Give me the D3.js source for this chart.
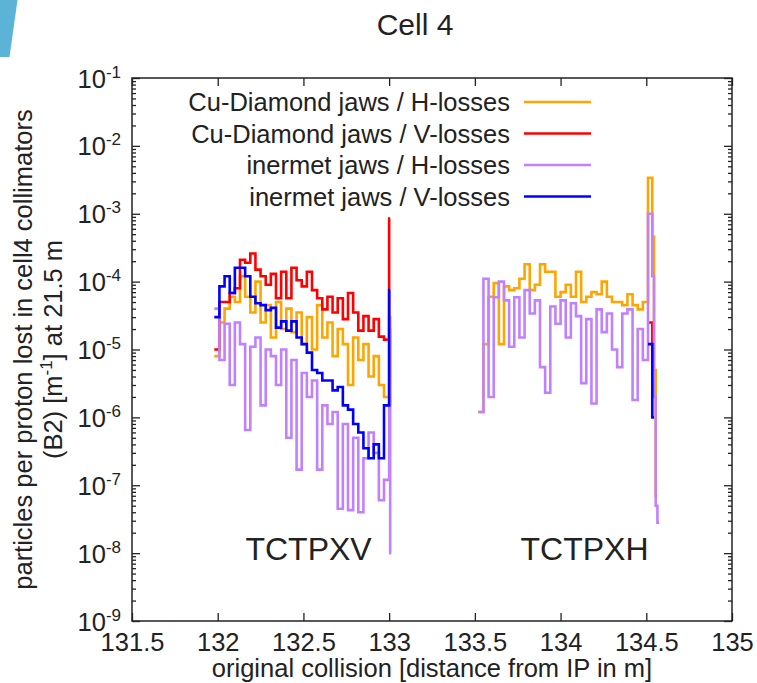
<!DOCTYPE html>
<html>
<head>
<meta charset="utf-8">
<script src="https://cdn.jsdelivr.net/npm/d3@7"></script>
<style>
  body { margin: 0; background: #fff; }
  svg text { font-family: "Liberation Sans", Arial, sans-serif; fill: #222; }
</style>
</head>
<body>
<script>
// bin edges (m) for the two collimators
const edgesV = [131.98, 132.01, 132.04, 132.07, 132.10, 132.13, 132.16, 132.19, 132.22, 132.25,
  132.28, 132.31, 132.34, 132.37, 132.40, 132.43, 132.46, 132.49, 132.52, 132.55, 132.58, 132.61,
  132.64, 132.67, 132.70, 132.73, 132.76, 132.79, 132.82, 132.85, 132.88, 132.91, 132.94, 132.97,
  133.00, 133.006, 133.012];
const edgesH = [133.52, 133.55, 133.58, 133.61, 133.64, 133.67, 133.70, 133.73, 133.76, 133.79,
  133.82, 133.85, 133.88, 133.91, 133.94, 133.97, 134.00, 134.03, 134.06, 134.09, 134.12, 134.15,
  134.18, 134.21, 134.24, 134.27, 134.30, 134.33, 134.36, 134.39, 134.42, 134.45, 134.48,
  134.51, 134.535, 134.545, 134.555, 134.565, 134.575];

// Cu-Diamond jaws / H-losses
const cuHV = [8e-6, 2.5e-5, 4e-5, 6e-5, 5e-5, 1.2e-4, 6e-5, 3.5e-5, 1e-4, 2.5e-5, 4.5e-5, 1.5e-5,
  5e-5, 2e-5, 4e-5, 1.8e-5, 3.5e-5, 1.2e-5, 3e-5, 1e-5, 4.5e-5, 1.5e-5, 2.5e-5, 8e-6, 2e-5, 1.2e-5,
  3e-6, 1.5e-5, 7e-6, 1.2e-5, 4e-6, 8e-6, 3e-6, 2e-6, 2e-5, 1.5e-6];
const cuHH = [1.2e-6, 1.2e-5, 6e-5, 9.5e-5, 1.2e-5, 8.5e-5, 7.5e-5, 8e-5, 1.1e-4, 1.8e-4, 7.5e-5,
  9e-5, 1.8e-4, 1.4e-4, 1.4e-4, 6e-5, 7e-5, 9e-5, 6e-5, 1.4e-4, 5e-5, 6e-5, 7e-5, 6.5e-5, 1e-4,
  6e-5, 5e-5, 5e-5, 4.5e-5, 6.5e-5, 4.5e-5, 3.9e-5, 5e-5, 3.4e-3, 4.6e-4, 5e-6, 7e-8, null];

// Cu-Diamond jaws / V-losses
const cuVV = [1e-5, 5e-5, 5e-5, 6.8e-5, 8e-5, 2.1e-4, 1.9e-4, 2.6e-4, 1.5e-4, 1.2e-4, 9e-5, 1.3e-4,
  5.7e-5, 1.4e-4, 5.7e-5, 1.6e-4, 1.05e-4, 8.5e-5, 1.4e-4, 7.5e-5, 5.7e-5, 3.9e-5, 6e-5, 3.5e-5,
  5.7e-5, 2.8e-5, 6.8e-5, 3.5e-5, 1.9e-5, 3.1e-5, 1.9e-5, 2.8e-5, 1.55e-5, 1.4e-5, 8.5e-4, null];
const cuVEdgesH = [134.51, 134.535, 134.545];
const cuVH = [2.5e-5, 3.6e-6];

// inermet jaws / H-losses
const inHV = [4e-5, 7e-6, 2.4e-5, 3e-6, 2.5e-5, 1.2e-5, 6.5e-7, 1.1e-5, 1.5e-5, 1.5e-6, 1e-5, 8e-6,
  3e-6, 1e-5, 5e-7, 7e-6, 1.7e-7, 4.5e-6, 2e-6, 3.5e-6, 1.7e-7, 1.5e-6, 8e-7, 1.2e-6, 4.5e-8, 8e-7,
  4.3e-8, 5e-7, 4e-8, 2.5e-7, 6e-7, 3e-7, 6e-8, 1.2e-7, 3e-5, 1e-8];
const inHH = [1.2e-6, 1.1e-4, 2e-6, 5.9e-5, 1e-4, 5.3e-5, 1.1e-5, 5.9e-5, 1.5e-5, 7.5e-5, 3.4e-5,
  5.3e-5, 5.5e-6, 2.3e-6, 4.3e-5, 2.4e-5, 5.3e-5, 1.5e-5, 4.8e-5, 3.1e-5, 3.2e-6, 2.8e-5, 1.6e-6,
  3.9e-5, 1.8e-5, 3.4e-5, 1e-5, 5.5e-6, 3.4e-5, 3.9e-5, 1.8e-6, 2e-5, 7e-6, 1e-3, 1.2e-4, 2e-6,
  5e-8, 2.8e-8];

// inermet jaws / V-losses
const inVV = [3e-5, 8.5e-5, 1.2e-4, 6.8e-5, 1.6e-4, 1.6e-4, 1.2e-4, 6e-5, 4.8e-5, 4.5e-5, 3.8e-5,
  4.1e-5, 2.1e-5, 2.6e-5, 1.9e-5, 2.6e-5, 1.5e-5, 1.2e-5, 9e-6, 5e-6, 4.5e-6, 3.5e-6, 3.5e-6,
  2.5e-6, 2.8e-6, 1.5e-6, 1.3e-6, 8e-7, 6e-7, 3.5e-7, 2.5e-7, 4e-7, 2.5e-7, 1.5e-6, 7.5e-5, null];
const inVEdgesH = [134.51, 134.535, 134.545];
const inVH = [1.2e-5, 1e-6];

const seriesNames = ["Cu-Diamond jaws / H-losses", "Cu-Diamond jaws / V-losses",
  "inermet jaws / H-losses", "inermet jaws / V-losses"];
const seriesColors = ["#ffa500", "#ff0000", "#c080ff", "#0000ff"];

const xTicks = [131.5, 132, 132.5, 133, 133.5, 134, 134.5, 135];
const yTicks = [1e-9, 1e-8, 1e-7, 1e-6, 1e-5, 1e-4, 1e-3, 1e-2, 1e-1];

const series = [
  { name: seriesNames[0], color: seriesColors[0], parts: [[edgesV, cuHV], [edgesH, cuHH]] },
  { name: seriesNames[1], color: seriesColors[1], parts: [[edgesV, cuVV], [cuVEdgesH, cuVH]] },
  { name: seriesNames[2], color: seriesColors[2], parts: [[edgesV, inHV], [edgesH, inHH]] },
  { name: seriesNames[3], color: seriesColors[3], parts: [[edgesV, inVV], [inVEdgesH, inVH]] }
];

const W = 757, H = 683;
const margin = { top: 78, right: 25, bottom: 62, left: 132 },
    width = W - margin.left - margin.right,
    height = H - margin.top - margin.bottom;

const svgRoot = d3.select("body").append("svg")
    .attr("width", W)
    .attr("height", H);

// slide decoration in the corner
svgRoot.append("polygon")
    .attr("points", "0,0 17.5,0 9.5,57 0,57")
    .attr("fill", "#5bb4d8");

const svg = svgRoot.append("g")
    .attr("transform", `translate(${margin.left}, ${margin.top})`);

const x = d3.scaleLinear().domain([131.5, 135]).range([0, width]);
const y = d3.scaleLog().domain([1e-9, 1e-1]).range([height, 0]);

const minorY = [];
yTicks.slice(0, -1).forEach(t => { for (let k = 2; k <= 9; k++) minorY.push(t * k); });

const fs = 25.5;

// axes (ticks point inward, mirrored)
const styleAxis = g => {
    g.select(".domain").remove();
    g.selectAll("line").attr("stroke", "#222").attr("stroke-width", 1.3);
    g.attr("font-size", null).attr("font-family", null);
};

svg.append("g")
    .attr("transform", `translate(0, ${height})`)
    .call(d3.axisBottom(x).tickValues(xTicks).tickSizeInner(-8).tickSizeOuter(0).tickPadding(10)
        .tickFormat(d3.format("")))
    .call(styleAxis)
    .selectAll("text").attr("font-size", fs).attr("dy", "0.71em").attr("y", 12);

svg.append("g")
    .call(d3.axisTop(x).tickValues(xTicks).tickSizeInner(-8).tickSizeOuter(0).tickFormat(""))
    .call(styleAxis);

const yLeft = svg.append("g")
    .call(d3.axisLeft(y).tickValues(yTicks).tickSizeInner(-8).tickSizeOuter(0).tickPadding(11))
    .call(styleAxis);
yLeft.selectAll("text").each(function(d) {
    const t = d3.select(this).text("").attr("font-size", fs).attr("dy", 9);
    t.append("tspan").text("10");
    t.append("tspan").attr("dy", -10).attr("font-size", 17).text(Math.round(Math.log10(d)));
});

svg.append("g")
    .attr("transform", `translate(${width}, 0)`)
    .call(d3.axisRight(y).tickValues(yTicks).tickSizeInner(-8).tickSizeOuter(0).tickFormat(""))
    .call(styleAxis);

svg.append("g")
    .call(d3.axisLeft(y).tickValues(minorY).tickSizeInner(-4).tickSizeOuter(0).tickFormat(""))
    .call(styleAxis);
svg.append("g")
    .attr("transform", `translate(${width}, 0)`)
    .call(d3.axisRight(y).tickValues(minorY).tickSizeInner(-4).tickSizeOuter(0).tickFormat(""))
    .call(styleAxis);

// frame
svg.append("rect")
    .attr("width", width).attr("height", height)
    .attr("fill", "none").attr("stroke", "#222").attr("stroke-width", 1.5);

// step curves
const line = d3.line()
    .defined(d => d[1] != null)
    .x(d => x(d[0]))
    .y(d => y(d[1]));

const stepPoints = (edges, vals) => {
    const pts = [];
    vals.forEach((v, i) => { pts.push([edges[i], v], [edges[i + 1], v]); });
    return pts;
};

series.forEach(s => {
    s.parts.forEach(([edges, vals]) => {
        svg.append("path")
            .attr("d", line(stepPoints(edges, vals)))
            .attr("fill", "none")
            .attr("stroke", s.color)
            .attr("stroke-width", 2.6);
    });
});

// legend
const legend = svg.append("g").attr("transform", `translate(0, 24)`);
series.forEach((s, i) => {
    const row = legend.append("g").attr("transform", `translate(0, ${i * 31.5})`);
    row.append("text")
        .attr("x", 378).attr("y", 9)
        .attr("text-anchor", "end")
        .attr("font-size", fs)
        .text(s.name);
    row.append("line")
        .attr("x1", 392).attr("x2", 459)
        .attr("stroke", s.color).attr("stroke-width", 2.6);
});

// collimator labels
svg.append("text")
    .attr("x", x(132.53)).attr("y", 482)
    .attr("text-anchor", "middle").attr("font-size", 32)
    .text("TCTPXV");
svg.append("text")
    .attr("x", x(134.14)).attr("y", 482)
    .attr("text-anchor", "middle").attr("font-size", 32)
    .text("TCTPXH");

// title
svgRoot.append("text")
    .attr("x", 415).attr("y", 35)
    .attr("text-anchor", "middle").attr("font-size", 30)
    .text("Cell 4");

// x label
svgRoot.append("text")
    .attr("x", margin.left + width / 2).attr("y", 677)
    .attr("text-anchor", "middle").attr("font-size", fs)
    .text("original collision [distance from IP in m]");

// y label, two lines
const yl = svgRoot.append("g").attr("transform", `translate(0, ${margin.top + height / 2}) rotate(-90)`);
yl.append("text")
    .attr("x", 0).attr("y", 32)
    .attr("text-anchor", "middle").attr("font-size", fs)
    .text("particles per proton lost in cell4 collimators");
const yl2 = yl.append("text")
    .attr("x", 0).attr("y", 62)
    .attr("text-anchor", "middle").attr("font-size", fs);
yl2.append("tspan").text("(B2) [m");
yl2.append("tspan").attr("dy", -10).attr("font-size", 17).text("-1");
yl2.append("tspan").attr("dy", 10).text("] at 21.5 m");
</script>
</body>
</html>
